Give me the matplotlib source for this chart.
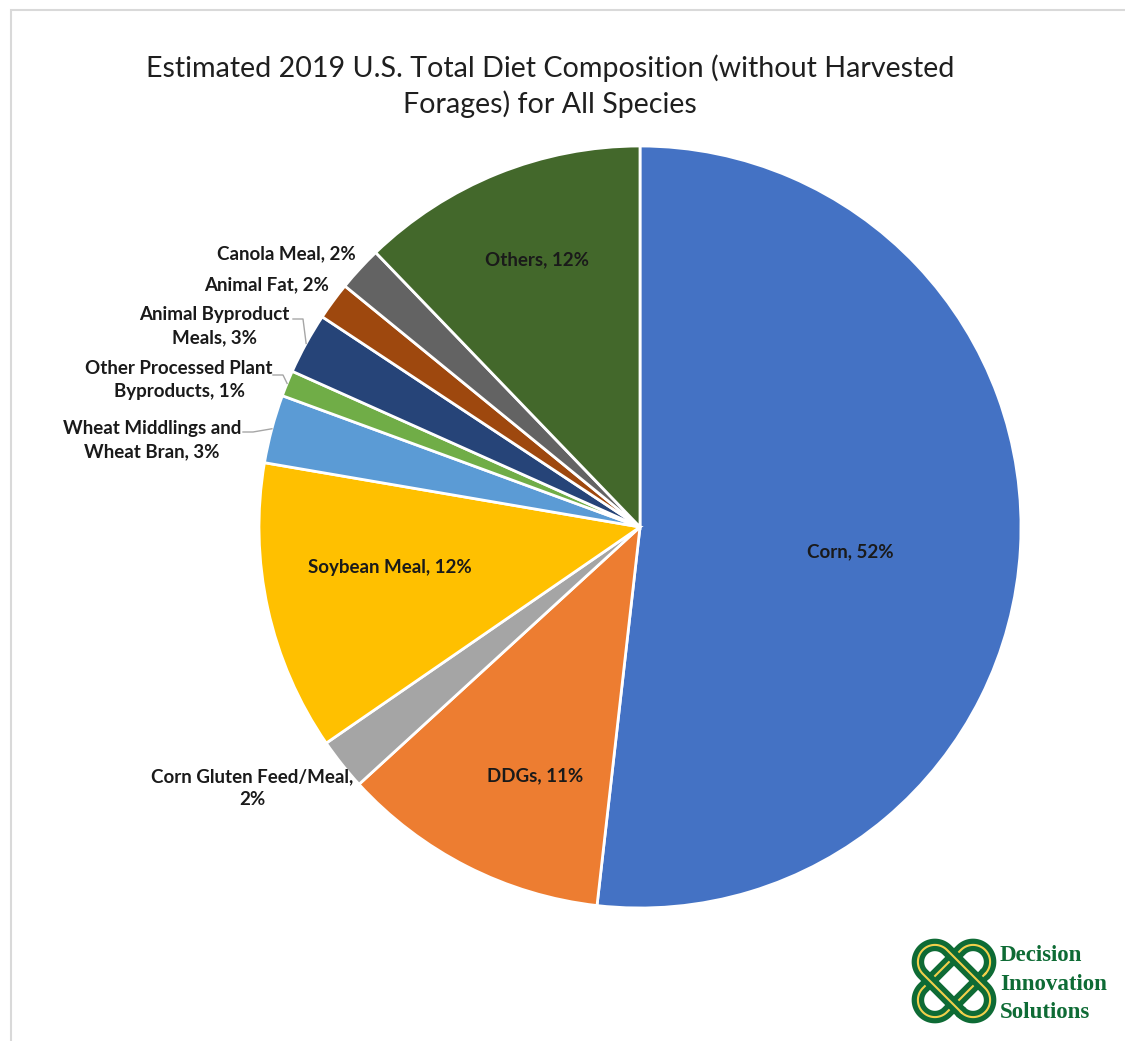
import numpy as np
import matplotlib
matplotlib.use("Agg")
import matplotlib.pyplot as plt
from matplotlib.patches import Rectangle

# slice data, clockwise from 12 o'clock
names = ['Corn', 'DDGs', 'Corn Gluten Feed/Meal', 'Soybean Meal',
         'Wheat Middlings and Wheat Bran', 'Other Processed Plant Byproducts',
         'Animal Byproduct Meals', 'Animal Fat', 'Canola Meal', 'Others']
shares = [51.8, 11.4, 2.2, 12.3, 2.9, 1.1, 2.6, 1.6, 1.9, 12.2]
label_text = ['Corn, 52%', 'DDGs, 11%', 'Corn Gluten Feed/Meal,\n2%', 'Soybean Meal, 12%',
              'Wheat Middlings and\nWheat Bran, 3%', 'Other Processed Plant\nByproducts, 1%',
              'Animal Byproduct\nMeals, 3%', 'Animal Fat, 2%', 'Canola Meal, 2%', 'Others, 12%']
colors = ['#4472C4', '#ED7D31', '#A5A5A5', '#FFC000', '#5B9BD5',
          '#70AD47', '#264478', '#9E480E', '#636363', '#43682B']

W, H = 1125, 1041
CX, CY, R = 640, H - 527, 381

fig = plt.figure(figsize=(W / 100, H / 100), dpi=100)
ax = fig.add_axes([0, 0, 1, 1])

wedges, _ = ax.pie(shares, colors=colors, startangle=90, counterclock=False,
                   center=(CX, CY), radius=R,
                   wedgeprops=dict(edgecolor='white', linewidth=2))
ax.set_xlim(0, W)
ax.set_ylim(0, H)
ax.set_aspect('equal')
ax.axis('off')

# label layout (pixel positions of text centres, top-down y)
label_pos = [(850, 552), (535, 776), (252, 788), (390, 567), (152, 440),
             (179, 380), (214, 326), (267, 285), (286, 254), (537, 260)]
lab_font = dict(fontsize=13.5, fontweight='bold', family='Lato', color='#1a1a1a')
for i, txt in enumerate(label_text):
    x, y = label_pos[i]
    ax.text(x, H - y, txt, ha='center', va='center', linespacing=1.4, **lab_font)

# leader lines for the thin slices
leaders = {4: (243, 432), 5: (273, 375), 6: (293, 319)}
for i, (tx, ty) in leaders.items():
    w = wedges[i]
    mid = np.deg2rad((w.theta1 + w.theta2) / 2)
    ex, ey = CX + R * np.cos(mid), CY + R * np.sin(mid)
    ax.plot([tx, tx + 10, ex], [H - ty, H - ty, ey], color='#A6A6A6', lw=1)

ax.text(550, H - 86, 'Estimated 2019 U.S. Total Diet Composition (without Harvested\nForages) for All Species',
        ha='center', va='center', fontsize=20.6, family='Lato', color='#1f1f1f', linespacing=1.35)

# chart frame (only top and left edges are visible in the crop)
ax.add_patch(Rectangle((11, -20), W + 40, H - 10 + 20, fill=False, edgecolor='#D9D9D9', lw=1.5))

# logo
green, gold = '#0E6B35', '#F2D04B'
lx, ly = 954, H - 981
for ang in (45, -45):
    a = np.deg2rad(ang)
    # stadium shape along a diagonal
    L, rr = 27, 17
    pts = []
    for s in np.linspace(-np.pi / 2, np.pi / 2, 50):
        pts.append((L + rr * np.cos(s), rr * np.sin(s)))
    for s in np.linspace(np.pi / 2, 3 * np.pi / 2, 50):
        pts.append((-L + rr * np.cos(s), rr * np.sin(s)))
    pts.append(pts[0])
    p = np.array(pts)
    xr = lx + p[:, 0] * np.cos(a) - p[:, 1] * np.sin(a)
    yr = ly + p[:, 0] * np.sin(a) + p[:, 1] * np.cos(a)
    ax.plot(xr, yr, color=green, lw=9, solid_capstyle='round')
    ax.plot(xr, yr, color=gold, lw=1.5)
ax.text(1000, H - 984, 'Decision\nInnovation\nSolutions', ha='left', va='center',
        fontsize=16.5, fontweight='bold', family='Liberation Serif', color=green, linespacing=1.45)

fig.savefig('out.png', dpi=100, facecolor='white')
